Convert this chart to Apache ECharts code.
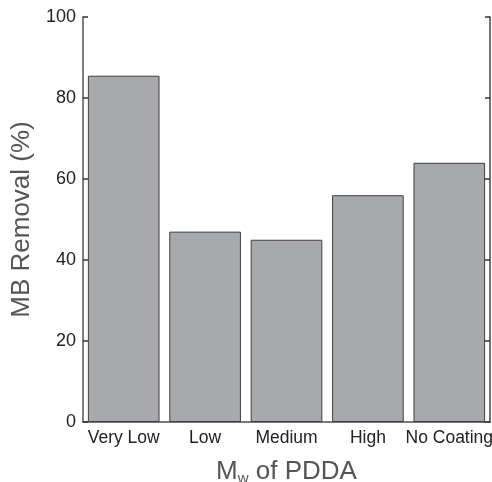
<!DOCTYPE html>
<html><head><meta charset="utf-8">
<script src="https://cdn.jsdelivr.net/npm/echarts@6/dist/echarts.min.js"></script>
<style>html,body{margin:0;padding:0;background:#fff}#c{width:492px;height:482px}</style>
</head><body><div id="c"></div>
<script>
const categories = ['Very Low', 'Low', 'Medium', 'High', 'No Coating'];
const removal = [85.5, 47, 45, 56, 64];
const yTicks = [0, 20, 40, 60, 80, 100];

const chart = echarts.init(document.getElementById('c'), null, {renderer: 'canvas'});
const font = 'Liberation Sans, Arial, sans-serif';
chart.setOption({
  animation: false,
  grid: {left: 83, right: 2, top: 17, bottom: 60, containLabel: false, outerBoundsMode: 'none'},
  xAxis: [{
    type: 'category', data: categories, position: 'bottom',
    axisLine: {lineStyle: {color: '#555', width: 1.5}},
    axisTick: {inside: true, length: 6, lineStyle: {color: '#333', width: 1.5}},
    axisLabel: {color: '#222', fontSize: 17.5, fontFamily: font, margin: 7, interval: 0},
    name: 'M{sub|w} of PDDA', nameLocation: 'middle', nameGap: 35,
    nameTextStyle: {color: '#555', fontSize: 26, fontFamily: font,
      rich: {sub: {fontSize: 15, color: '#555', fontFamily: font, verticalAlign: 'bottom', padding: [14, 0, 0, 0]}}}
  }, {
    type: 'category', data: categories, position: 'top',
    axisLine: {lineStyle: {color: '#777', width: 1}},
    axisTick: {inside: true, length: 6, lineStyle: {color: '#333', width: 1.5}},
    axisLabel: {show: false}
  }],
  yAxis: [{
    type: 'value', min: 0, max: 100, interval: 20, position: 'left',
    axisLine: {show: true, lineStyle: {color: '#555', width: 1.5}},
    axisTick: {show: true, inside: true, length: 5, lineStyle: {color: '#333', width: 1.5}},
    axisLabel: {color: '#222', fontSize: 18, fontFamily: font, margin: 7,
      formatter: v => yTicks.includes(v) ? String(v) : ''},
    splitLine: {show: false},
    name: 'MB Removal (%)', nameLocation: 'middle', nameGap: 40, nameRotate: 90,
    nameTextStyle: {color: '#555', fontSize: 26, fontFamily: font}
  }, {
    type: 'value', min: 0, max: 100, interval: 20, position: 'right',
    axisLine: {show: true, lineStyle: {color: '#444', width: 1.5}},
    axisTick: {show: true, inside: true, length: 5, lineStyle: {color: '#333', width: 1.5}},
    axisLabel: {show: false}, splitLine: {show: false}
  }],
  series: [{
    type: 'bar', data: removal, barWidth: '88%',
    itemStyle: {color: '#a7a9ad', borderColor: '#3f3f3f', borderWidth: 1}
  }]
});
</script></body></html>
